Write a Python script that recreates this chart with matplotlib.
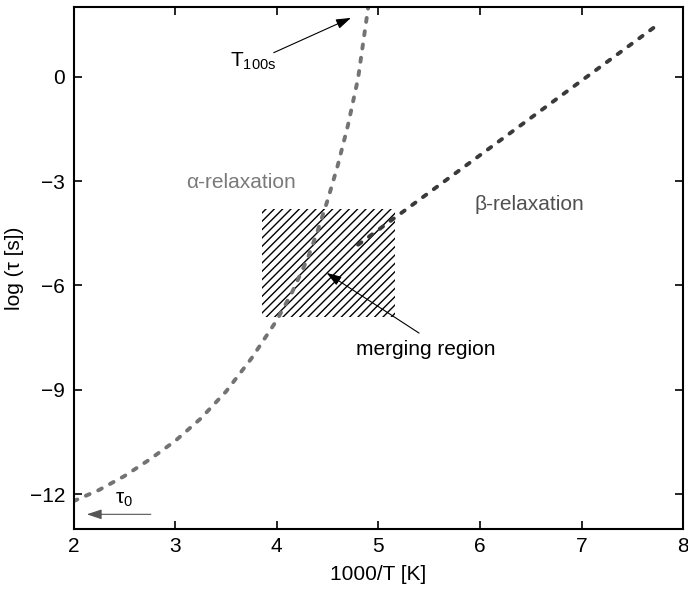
import numpy as np
import matplotlib
matplotlib.use("Agg")
import matplotlib.pyplot as plt

plt.rcParams['font.family'] = ['Liberation Sans', 'DejaVu Sans']
plt.rcParams['font.size'] = 15
plt.rcParams['hatch.linewidth'] = 1.0

# alpha relaxation (VFT-like curve)
alpha_x = [2.0, 2.25, 2.5, 2.75, 3.0, 3.25, 3.5, 3.75, 4.0, 4.15, 4.3, 4.4, 4.5, 4.6, 4.7, 4.8, 4.9]
alpha_y = [-12.2, -11.88, -11.48, -11.0, -10.47, -9.83, -9.05, -8.1, -7.0, -6.2, -5.25, -4.45, -3.55, -2.55, -1.4, -0.05, 2.0]

# beta relaxation (Arrhenius, straight line)
beta_x = [4.8, 7.72]
beta_y = [-4.83, 1.43]

# merging region box: x0, x1, y0, y1
merge_x = [3.85, 5.16]
merge_y = [-6.9, -3.8]

xticks = [2, 3, 4, 5, 6, 7, 8]
yticks = [0, -3, -6, -9, -12]

fig = plt.figure(figsize=(6.88, 5.91), dpi=100)
ax = fig.add_axes([0.107, 0.105, 0.886, 0.883])

ax.fill_between(merge_x, merge_y[0], merge_y[1], facecolor='none',
                edgecolor='black', hatch='////', linewidth=0, zorder=1)

ax.plot(alpha_x, alpha_y, color='#737373', lw=2.8, dashes=(1.05, 2.4),
        dash_capstyle='round', zorder=2)
ax.plot(beta_x, beta_y, color='#3a3a3a', lw=2.8, dashes=(1.05, 2.4),
        dash_capstyle='round', zorder=2)

ax.set_xlim(2, 8)
ax.set_ylim(-13, 2)
ax.set_xticks(xticks)
ax.set_yticks(yticks)
ax.tick_params(direction='in', length=6, width=1.2, top=True, right=True, pad=6)
for s in ax.spines.values():
    s.set_linewidth(1.5)

ax.set_xlabel('1000/T [K]', labelpad=6)
ax.set_ylabel('log (τ [s])', labelpad=4)

arrow = dict(arrowstyle='-|>,head_length=0.6,head_width=0.2', color='black',
             lw=0.8, shrinkA=0, shrinkB=0)

ax.text(3.65, -3.05, 'α-relaxation', color='#7a7a7a', ha='center', va='center')
ax.text(6.49, -3.68, 'β-relaxation', color='#505050', ha='center', va='center')
ax.text(3.54, 0.45, r'T$_{\mathregular{100s}}$', ha='left', va='center')
ax.annotate('', xy=(4.73, 1.69), xytext=(3.97, 0.69), arrowprops=arrow)

ax.text(5.47, -7.85, 'merging region', ha='center', va='center')
ax.annotate('', xy=(4.49, -5.64), xytext=(5.40, -7.37), arrowprops=arrow)

ax.text(2.41, -12.15, r'τ$_{\mathregular{0}}$', ha='left', va='center')
ax.annotate('', xy=(2.13, -12.58), xytext=(2.76, -12.58),
            arrowprops=dict(arrow, color='#555555'))

fig.savefig('out.png', dpi=100)
